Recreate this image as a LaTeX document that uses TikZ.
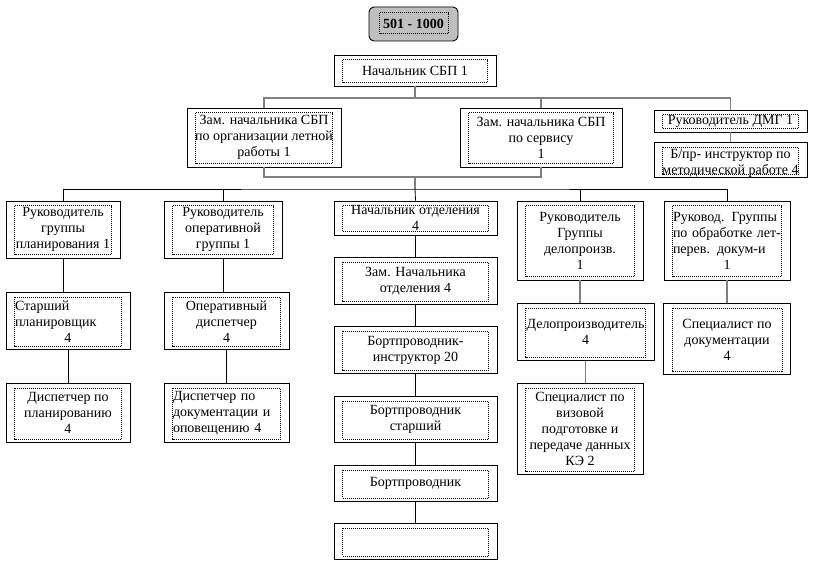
\documentclass[tikz,border=0pt]{standalone}
\usepackage{fontspec}
\setmainfont{Liberation Serif}
\usetikzlibrary{positioning}
\newcommand\ctrline[1]{\hbox to\hsize{\hfil#1\hfil}}

\begin{document}
\begin{tikzpicture}[x=1pt, y=-1pt,
  unit/.style={draw, line width=0.9pt, inner sep=0pt, align=center, font=\fontsize{14}{16}\selectfont},
  frame/.style={line width=0.5pt, dash pattern=on 1pt off 1pt},
  link/.style={line width=0.8pt},
  glink/.style={line width=1.2pt, draw=gray}]

\useasboundingbox (0,0) rectangle (825,564);

% top levels
\node[unit, rounded corners=5pt, fill=gray!50, minimum width=89pt, minimum height=34pt, font=\fontsize{14}{16}\selectfont\bfseries] (range) at (413.5,24) {501 - 1000};
\node[unit, minimum width=162pt, minimum height=31pt] (boss) at (415,70.5) {Начальник СБП 1};
\node[unit, minimum width=154pt, minimum height=59pt] (zamA) at (264,137.5) {Зам. начальника СБП\\по организации летной\\работы 1};
\node[unit, minimum width=162pt, minimum height=59pt] (zamB) at (541,137.5) {Зам. начальника СБП\\по сервису\\1};
\node[unit, minimum width=153pt, minimum height=22pt] (dmg) at (730.5,121) {Руководитель ДМГ 1};
\node[unit, minimum width=153pt, minimum height=31pt, text height=32pt, below=10pt of dmg] (bpr) {Б/пр- инструктор по\\методической работе 4};

% groups
\node[unit, minimum width=114pt, minimum height=57pt] (plan) at (63,229.5) {Руководитель\\группы\\планирования 1};
\node[unit, minimum width=118pt, minimum height=57pt] (oper) at (223,229.5) {Руководитель\\оперативной\\группы 1};
\node[unit, minimum width=163pt, minimum height=34pt] (otd) at (415.5,218) {Начальник отделения\\4};
\node[unit, minimum width=126pt, minimum height=79pt] (delo) at (580,240.5) {Руководитель\\Группы\\делопроизв.\\1};
\node[unit, minimum width=126pt, minimum height=79pt, text width=108pt, align=left] (obr) at (727,240.5) {Руковод. Группы\\по обработке лет-\\перев. докум-и\\\ctrline{1}};

% planning
\node[unit, minimum width=124pt, minimum height=57pt, text width=106pt, align=left, below=34pt of plan, xshift=5pt] (planSr) {Старший\\планировщик\\\ctrline{4}};
\node[unit, minimum width=124pt, minimum height=59pt, below=33pt of planSr] (planDisp) {Диспетчер по\\планированию\\4};

% operations
\node[unit, minimum width=125pt, minimum height=57pt, below=34pt of oper, xshift=3.5pt] (operDisp) {Оперативный\\диспетчер\\4};
\node[unit, minimum width=125pt, minimum height=59pt, text width=107pt, align=left, below=33pt of operDisp] (docDisp) {Диспетчер по\\документации и\\оповещению 4};

% cabin crew
\node[unit, minimum width=163pt, minimum height=47pt, below=22pt of otd] (otdZam) {Зам. Начальника\\отделения 4};
\node[unit, minimum width=163pt, minimum height=47pt, below=21pt of otdZam] (instr) {Бортпроводник-\\инструктор 20};
\node[unit, minimum width=163pt, minimum height=46pt, below=22pt of instr] (seniorFA) {Бортпроводник\\старший};
\node[unit, minimum width=163pt, minimum height=36pt, below=22pt of seniorFA] (attendant) {Бортпроводник};
\node[unit, minimum width=163pt, minimum height=36pt, below=21pt of attendant] (blank) {};

% paperwork
\node[unit, minimum width=137pt, minimum height=57pt, below=23pt of delo, xshift=5.5pt] (clerk) {Делопроизводитель\\4};
\node[unit, minimum width=126pt, minimum height=91pt, below=22pt of clerk, xshift=-5.5pt] (visa) {Специалист по\\визовой\\подготовке и\\передаче данных\\КЭ 2};
\node[unit, minimum width=127pt, minimum height=71pt, below=23pt of obr] (docSpec) {Специалист по\\документации\\4};

% inner dotted frames
\draw[frame] ([shift={(11pt,-6pt)}]range.north west) rectangle ([shift={(-10pt,8pt)}]range.south east);
\foreach \n in {boss, zamA, zamB, dmg, bpr, plan, oper, otd, delo, obr, planSr, planDisp, operDisp, docDisp, otdZam, instr, seniorFA, attendant, blank, clerk, visa, docSpec}
  \draw[frame] ([shift={(9pt,-5pt)}]\n.north west) rectangle ([shift={(-9pt,4pt)}]\n.south east);

% connectors
\coordinate (busA) at (415,98);
\coordinate (busB) at (415,177);
\coordinate (busC) at (415,189);
\draw[glink] (boss.south) -- (busA);
\draw[glink] (zamA.north) |- (busA) -| (dmg.north);
\draw[glink] (zamB.north) -- (zamB.north |- busA);
\draw[glink] (dmg.south) -- (bpr.north);
\draw[glink] (zamA.south) |- (busB) -| (zamB.south);
\draw[glink] (busB) -- (busC);
\draw[link] (plan.north) |- (busC) -| (obr.north);
\draw[link] (busC) -- (otd.north);
\foreach \n in {oper, delo}
  \draw[link] (\n.north) -- (\n.north |- busC);
\foreach \a/\b in {plan/planSr, planSr/planDisp, oper/operDisp, operDisp/docDisp, otd/otdZam, otdZam/instr, instr/seniorFA, seniorFA/attendant, attendant/blank}
  \draw[link] (\a.south) -- (\a.south |- \b.north);
\foreach \a/\b in {delo/clerk, clerk/visa, obr/docSpec}
  \draw[glink] (\a.south) -- (\a.south |- \b.north);
\end{tikzpicture}
\end{document}
